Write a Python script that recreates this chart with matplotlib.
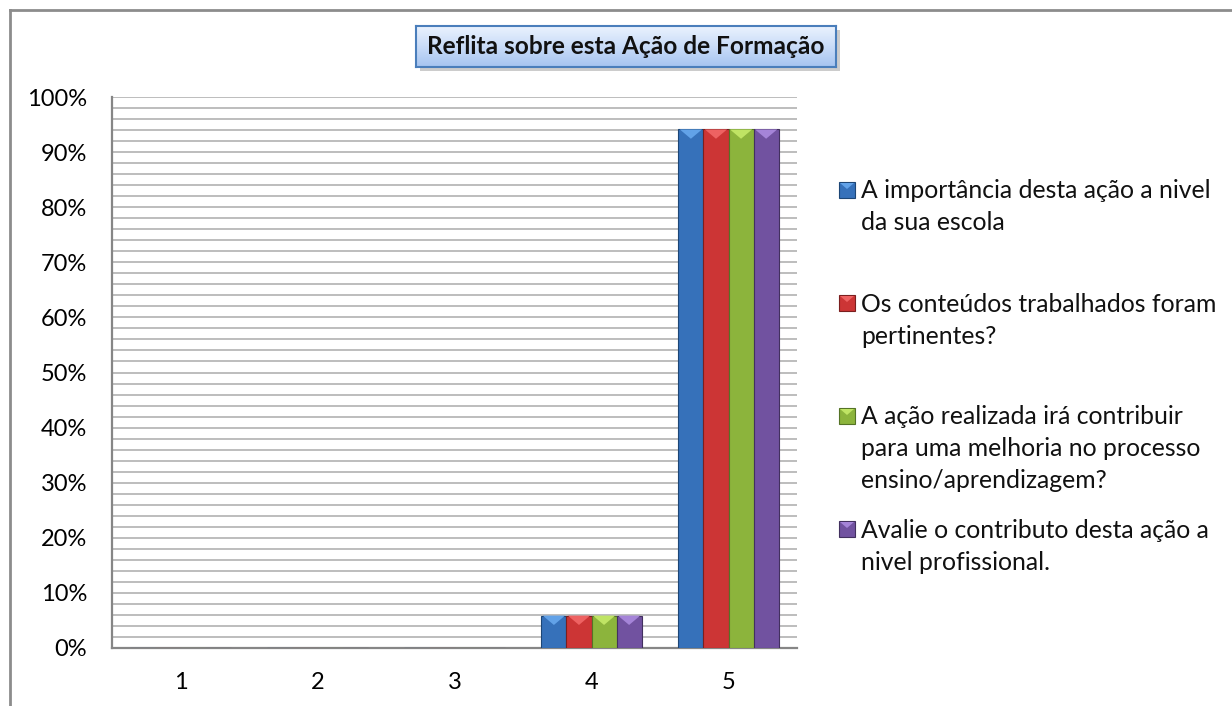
import numpy as np
import matplotlib
matplotlib.use('Agg')
import matplotlib.pyplot as plt
from matplotlib.patches import Polygon, Rectangle
from matplotlib.lines import Line2D
from matplotlib.colors import LinearSegmentedColormap

plt.rcParams['font.family'] = ['Lato', 'DejaVu Sans']

W, H = 1232, 706

# data (percent of answers per rating 1..5)
categories = ['1', '2', '3', '4', '5']
s_importancia = [0, 0, 0, 5.88, 94.12]
s_conteudos = [0, 0, 0, 5.88, 94.12]
s_contribuir = [0, 0, 0, 5.88, 94.12]
s_profissional = [0, 0, 0, 5.88, 94.12]
labels = ['A importância desta ação a nivel\nda sua escola',
          'Os conteúdos trabalhados foram\npertinentes?',
          'A ação realizada irá contribuir\npara uma melhoria no processo\nensino/aprendizagem?',
          'Avalie o contributo desta ação a\nnivel profissional.']
title = 'Reflita sobre esta Ação de Formação'

series = [s_importancia, s_conteudos, s_contribuir, s_profissional]
colors = ['#3671ba', '#cc3535', '#8cb43c', '#7152a0']
tops = ['#62a2e8', '#ee6262', '#bfe464', '#a584d8']
edges = ['#1d4676', '#7a1f1f', '#557326', '#42305f']


def px(x, y):
    return x / W, 1 - y / H


fig = plt.figure(figsize=(W / 100, H / 100), dpi=100)

# outer frame (only top and left visible)
fig.add_artist(Line2D([10 / W, 1], [1 - 10 / H] * 2, color='#8c8c8c', lw=2))
fig.add_artist(Line2D([10 / W] * 2, [0, 1 - 10 / H], color='#8c8c8c', lw=2))

ax = fig.add_axes([112 / W, 1 - 648 / H, 685 / W, 551 / H])
x = np.arange(len(categories))
bw = 0.183
offs = (np.arange(len(series)) - 1.5) * bw

for i, vals in enumerate(series):
    bars = ax.bar(x + offs[i], vals, bw, color=colors[i], edgecolor=edges[i],
                  linewidth=0.8, zorder=3)
    for b in bars:
        h = b.get_height()
        if h <= 0:
            continue
        x0, w = b.get_x(), b.get_width()
        ax.add_patch(Polygon([(x0 + 0.01, h), (x0 + w - 0.01, h), (x0 + w / 2, h - 1.7)],
                             closed=True, color=tops[i], lw=0, zorder=4))

ax.set_xlim(-0.5, len(categories) - 0.5)
ax.set_ylim(0, 100)
ax.set_xticks(x)
ax.set_xticklabels(categories)
ax.set_yticks(np.arange(0, 101, 10))
ax.set_yticklabels(['%d%%' % v for v in range(0, 101, 10)])
ax.set_yticks(np.arange(0, 101, 2), minor=True)
ax.yaxis.grid(True, which='both', color='#b7b7b7', lw=1.3)
ax.set_axisbelow(True)
ax.tick_params(axis='both', which='both', length=0, labelsize=17)
ax.tick_params(axis='y', pad=18)
ax.tick_params(axis='x', pad=17)
for s in ['top', 'right']:
    ax.spines[s].set_visible(False)
for s in ['left', 'bottom']:
    ax.spines[s].set_color('#868686')
    ax.spines[s].set_linewidth(1.6)

# legend, drawn entry by entry with even slots
for k, lab in enumerate(labels):
    cy = 190 + 113 * k
    rx, ry = px(839, cy + 8)
    fig.add_artist(Rectangle((rx, ry), 16 / W, 16 / H, facecolor=colors[k],
                             edgecolor=edges[k], lw=0.8, transform=fig.transFigure))
    fig.add_artist(Polygon([px(840, cy - 7), px(854, cy - 7), px(847, cy - 1)],
                           closed=True, color=tops[k], lw=0, transform=fig.transFigure))
    for j, line in enumerate(lab.split('\n')):
        tx, ty = px(861, cy + 8.5 + 32 * j)
        fig.text(tx, ty, line, fontsize=17.8, va='baseline', ha='left', color='#111111')

# title box with gradient and shadow
sx, sy = px(420, 71)
fig.add_artist(Rectangle((sx, sy), 420 / W, 41 / H, facecolor='#9a9a9a', alpha=0.5,
                         lw=0, transform=fig.transFigure, zorder=-1))
tax = fig.add_axes([416 / W, 1 - 67 / H, 420 / W, 41 / H])
cmap = LinearSegmentedColormap.from_list('tb', ['#eaf2fe', '#c9dcf8', '#a6c4f0'])
tax.imshow(np.linspace(0, 1, 64).reshape(-1, 1), aspect='auto', cmap=cmap,
           extent=[0, 1, 0, 1], origin='upper')
tax.set_xticks([])
tax.set_yticks([])
for s in tax.spines.values():
    s.set_color('#4a7ebb')
    s.set_linewidth(1.5)
tax.text(0.5, 0.5, title, ha='center', va='center', fontsize=17.6,
         fontweight='bold', color='#111111', transform=tax.transAxes)

fig.savefig('out.png', dpi=100, facecolor='white')
